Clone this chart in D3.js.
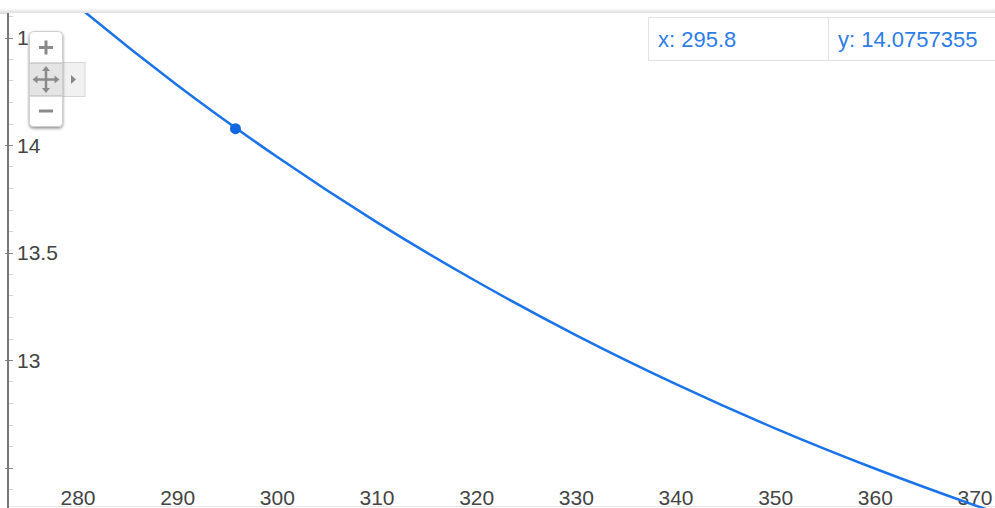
<!DOCTYPE html>
<html><head><meta charset="utf-8">
<script src="https://cdn.jsdelivr.net/npm/d3@7"></script>
<style>
html,body{margin:0;padding:0;background:#fff;overflow:hidden}
text{font-family:Arial,"Liberation Sans",sans-serif}
</style></head>
<body>
<script>
// Curve samples
const xValues = [278, 280, 290, 300, 310, 320, 330, 340, 350, 360, 370, 373];
const yValues = [14.723, 14.645, 14.277, 13.944, 13.640, 13.365, 13.115, 12.888, 12.681, 12.494, 12.324, 12.276];
// Highlighted point
const pointX = [295.8];
const pointY = [14.0757355];
const tooltipLabels = ["x: 295.8", "y: 14.0757355"];
// Axis ticks
const xTicks = [280, 290, 300, 310, 320, 330, 340, 350, 360, 370];
const yMajorTicks = [14.5, 14, 13.5, 13, 12.5];
const yLabeledTicks = [14.5, 14, 13.5, 13];
const yMinorTicks = d3.range(124, 148).map(d => d / 10);

(function () {
const W = 995, H = 508;
const x = d3.scaleLinear().domain([280, 370]).range([78, 975]);
const y = d3.scaleLinear().domain([14, 13]).range([145, 360]);
const plotLeft = 8, plotTop = 13;

const svg = d3.select("body").append("svg").attr("width", W).attr("height", H);
const defs = svg.append("defs");
defs.append("clipPath").attr("id", "plot").append("rect")
  .attr("x", plotLeft).attr("y", plotTop).attr("width", W - plotLeft).attr("height", H - plotTop);
const topGrad = defs.append("linearGradient").attr("id", "topsh").attr("x1", 0).attr("y1", 0).attr("x2", 0).attr("y2", 1);
topGrad.append("stop").attr("offset", 0).attr("stop-color", "#fff");
topGrad.append("stop").attr("offset", 1).attr("stop-color", "#d8d8d8");
const f = defs.append("filter").attr("id", "sh").attr("x", "-30%").attr("y", "-30%").attr("width", "160%").attr("height", "160%");
f.append("feDropShadow").attr("dx", 0).attr("dy", 1.5).attr("stdDeviation", 1.5).attr("flood-color", "#000").attr("flood-opacity", 0.45);

svg.append("rect").attr("x", 0).attr("y", 8).attr("width", W).attr("height", 6).attr("fill", "url(#topsh)");
svg.append("rect").attr("x", plotLeft).attr("y", plotTop).attr("width", W - plotLeft).attr("height", H - plotTop).attr("fill", "#fff");
svg.append("line").attr("x1", plotLeft).attr("x2", W).attr("y1", H - 1.5).attr("y2", H - 1.5).attr("stroke", "#e6e6e6");

svg.append("g").selectAll("line").data(yMinorTicks).join("line")
  .attr("x1", plotLeft).attr("x2", plotLeft + 5)
  .attr("y1", d => Math.round(y(d)) + 0.5).attr("y2", d => Math.round(y(d)) + 0.5)
  .attr("stroke", "#d4d4d4");
svg.append("g").selectAll("line").data(yMajorTicks).join("line")
  .attr("x1", plotLeft - 3).attr("x2", plotLeft + 5)
  .attr("y1", d => Math.round(y(d)) + 0.5).attr("y2", d => Math.round(y(d)) + 0.5)
  .attr("stroke", "#888");
svg.append("line").attr("x1", plotLeft).attr("x2", plotLeft).attr("y1", plotTop).attr("y2", H)
  .attr("stroke", "#777").attr("stroke-width", 2);

svg.append("g").selectAll("text").data(yLabeledTicks).join("text")
  .attr("x", 17).attr("y", d => y(d)).attr("dy", "0.36em")
  .attr("font-size", 21).attr("fill", "#444").text(d => d3.format("")(d));
svg.append("g").selectAll("text").data(xTicks).join("text")
  .attr("x", d => x(d)).attr("y", 497).attr("dy", "0.36em").attr("text-anchor", "middle")
  .attr("font-size", 21).attr("fill", "#444").text(d => d);

const pts = xValues.map((v, i) => [v, yValues[i]]);
svg.append("path").attr("clip-path", "url(#plot)")
  .datum(pts)
  .attr("d", d3.line().x(d => x(d[0])).y(d => y(d[1])).curve(d3.curveMonotoneX))
  .attr("fill", "none").attr("stroke", "#1a73e8").attr("stroke-width", 2.5);

svg.append("g").selectAll("circle").data(pointX).join("circle")
  .attr("cx", d => x(d)).attr("cy", (d, i) => y(pointY[i])).attr("r", 5.5)
  .attr("fill", "#1167e0");

const tip = svg.append("g");
tip.append("rect").attr("x", 648.5).attr("y", 17.5).attr("width", 360).attr("height", 43)
  .attr("fill", "#fff").attr("stroke", "#e3e3e3");
tip.append("line").attr("x1", 828.5).attr("x2", 828.5).attr("y1", 17).attr("y2", 61).attr("stroke", "#e3e3e3");
tip.selectAll("text").data(tooltipLabels).join("text")
  .attr("x", (d, i) => i === 0 ? 658 : 838).attr("y", 39).attr("dy", "0.36em")
  .attr("font-size", 22).attr("fill", "#2d7ce8").text(d => d);

const zc = svg.append("g");
zc.append("rect").attr("x", 62).attr("y", 62.5).attr("width", 23).attr("height", 34)
  .attr("fill", "#f1f1f1").attr("stroke", "#d6d6d6");
zc.append("path").attr("d", "M71,75 L76,79.5 L71,84 Z").attr("fill", "#888");
zc.append("rect").attr("x", 29.5).attr("y", 31.5).attr("width", 33).attr("height", 95).attr("rx", 4)
  .attr("fill", "#fff").attr("stroke", "#cfcfcf").attr("filter", "url(#sh)");
zc.append("rect").attr("x", 30).attr("y", 63).attr("width", 32).attr("height", 33).attr("fill", "#e4e4e4");
zc.append("line").attr("x1", 30).attr("x2", 62).attr("y1", 63).attr("y2", 63).attr("stroke", "#b5b5b5");
zc.append("line").attr("x1", 30).attr("x2", 62).attr("y1", 96).attr("y2", 96).attr("stroke", "#b5b5b5");
zc.append("path").attr("d", "M39,47.5 H53 M46,40.5 V54.5").attr("stroke", "#8a8a8a").attr("stroke-width", 3);
zc.append("path").attr("d", "M39,111 H53").attr("stroke", "#8a8a8a").attr("stroke-width", 3);
zc.append("path").attr("d", "M35,79.5 H57 M46,68.5 V90.5").attr("stroke", "#8a8a8a").attr("stroke-width", 2.5);
zc.append("path").attr("d", "M46,66 L42,71 H50 Z M46,93 L42,88 H50 Z M32.5,79.5 L37.5,75.5 V83.5 Z M59.5,79.5 L54.5,75.5 V83.5 Z").attr("fill", "#8a8a8a");
})();
</script>
</body></html>
